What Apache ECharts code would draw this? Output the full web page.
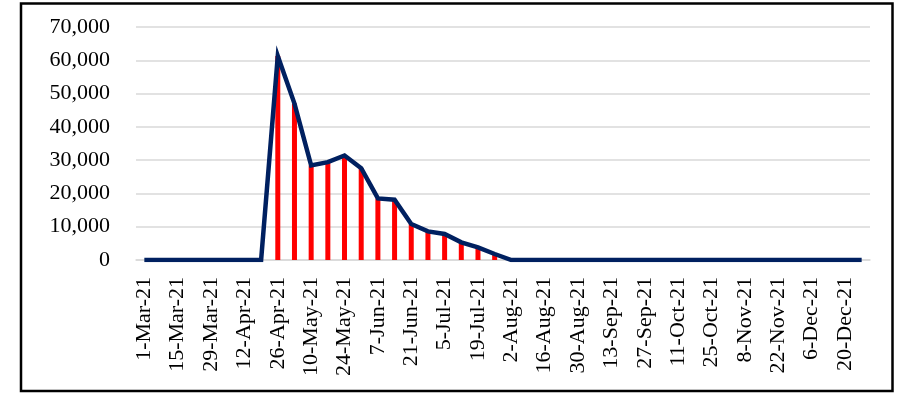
<!DOCTYPE html>
<html>
<head>
<meta charset="utf-8">
<script src="https://cdn.jsdelivr.net/npm/echarts@6/dist/echarts.min.js"></script>
<style>
html,body{margin:0;padding:0;background:#fff;}
#chart{width:902px;height:393px;}
</style>
</head>
<body>
<div id="chart"></div>
<script>
const categories = [
 '1-Mar-21','8-Mar-21','15-Mar-21','22-Mar-21','29-Mar-21',
 '5-Apr-21','12-Apr-21','19-Apr-21','26-Apr-21',
 '3-May-21','10-May-21','17-May-21','24-May-21','31-May-21',
 '7-Jun-21','14-Jun-21','21-Jun-21','28-Jun-21',
 '5-Jul-21','12-Jul-21','19-Jul-21','26-Jul-21',
 '2-Aug-21','9-Aug-21','16-Aug-21','23-Aug-21','30-Aug-21',
 '6-Sep-21','13-Sep-21','20-Sep-21','27-Sep-21',
 '4-Oct-21','11-Oct-21','18-Oct-21','25-Oct-21',
 '1-Nov-21','8-Nov-21','15-Nov-21','22-Nov-21','29-Nov-21',
 '6-Dec-21','13-Dec-21','20-Dec-21','27-Dec-21'
];
const barValues = [
 0,0,0,0,0,
 0,0,0,61300,
 47000,28400,29400,31400,27600,
 18500,18100,10800,8600,
 7800,5300,3800,1800,
 0,0,0,0,0,
 0,0,0,0,
 0,0,0,0,
 0,0,0,0,0,
 0,0,0,0
];
const lineValues = barValues.slice();
const yTicks = {min: 0, max: 70000, interval: 10000};

const chart = echarts.init(document.getElementById('chart'), null, {renderer: 'canvas'});
const serif = '"Liberation Serif", "Times New Roman", serif';
chart.setOption({
  animation: false,
  backgroundColor: '#ffffff',
  graphic: [{
    type: 'rect',
    shape: {x: 21, y: 3.5, width: 871.5, height: 387.5},
    style: {fill: 'none', stroke: '#000000', lineWidth: 2.5},
    silent: true,
    z: 100
  }],
  grid: {left: 136, right: 32, top: 27, bottom: 133, containLabel: false},
  xAxis: {
    type: 'category',
    data: categories,
    boundaryGap: true,
    axisLine: {show: true, lineStyle: {color: '#d9d9d9', width: 1.5}},
    axisTick: {show: false},
    axisLabel: {
      interval: 1,
      rotate: 90,
      margin: 17,
      color: '#000000',
      fontFamily: serif,
      fontSize: 22
    },
    splitLine: {show: false}
  },
  yAxis: {
    type: 'value',
    min: yTicks.min,
    max: yTicks.max,
    interval: yTicks.interval,
    axisLine: {show: false},
    axisTick: {show: false},
    axisLabel: {
      margin: 26,
      color: '#000000',
      fontFamily: serif,
      fontSize: 22,
      formatter: v => v.toLocaleString('en-US')
    },
    splitLine: {show: true, lineStyle: {color: '#d9d9d9', width: 1.5}}
  },
  series: [
    {
      type: 'bar',
      data: barValues,
      barWidth: 5,
      itemStyle: {color: '#ff0000'},
      z: 2
    },
    {
      type: 'line',
      data: lineValues,
      symbol: 'none',
      lineStyle: {color: '#002060', width: 4.5, join: 'miter'},
      z: 3
    }
  ]
});
</script>
</body>
</html>
